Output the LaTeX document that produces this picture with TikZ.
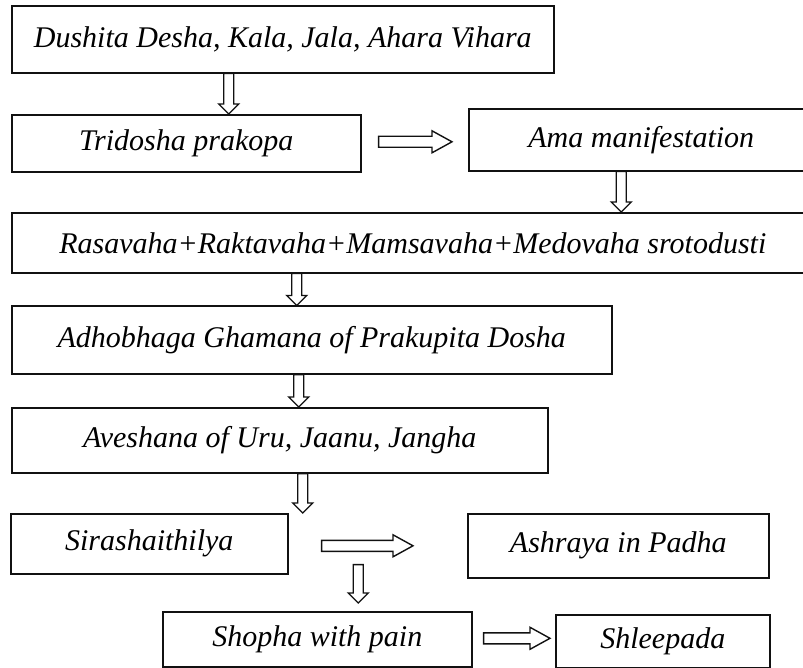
\documentclass[tikz,border=0pt]{standalone}
\usepackage{fontspec}
\setmainfont{Liberation Serif}
\usetikzlibrary{calc}
\definecolor{flowline}{HTML}{111111}
\tikzset{
  box/.style={
    draw=flowline,
    line width=1.6pt,
    anchor=north west,
    inner sep=0pt,
    align=center,
    font=\fontsize{30}{35}\selectfont\itshape
  },
  downblock/.style={
    draw=flowline,
    line width=1.3pt,
    to path={
      let \p1=(\tikztostart), \p2=(\tikztotarget) in
      (\x1-5,\y1) -- (\x1+5,\y1) -- (\x1+5,\y2+10) -- (\x1+10,\y2+10)
      -- (\x1,\y2) -- (\x1-10,\y2+10) -- (\x1-5,\y2+10) -- cycle
    }
  },
  rightblock/.style={
    draw=flowline,
    line width=1.4pt,
    to path={
      let \p1=(\tikztostart), \p2=(\tikztotarget) in
      (\x1,\y1+5.5) -- (\x2-20,\y1+5.5) -- (\x2-20,\y1+11) -- (\x2,\y1)
      -- (\x2-20,\y1-11) -- (\x2-20,\y1-5.5) -- (\x1,\y1-5.5) -- cycle
    }
  }
}

\begin{document}
\begin{tikzpicture}[x=1pt, y=-1pt]

\path[use as bounding box, clip] (0,0) rectangle (803,668);

% main chain
\node[box, minimum width=542pt, minimum height=67pt] (dushita) at (11,5)
  {Dushita Desha, Kala, Jala, Ahara Vihara};
\node[box, minimum width=349pt, minimum height=57pt] (tridosha) at (11,114)
  {Tridosha prakopa};
\node[box, minimum width=345pt, minimum height=62pt] (ama) at (468,108)
  {Ama manifestation};
\node[box, minimum width=802pt, minimum height=60pt] (rasavaha) at (11,212)
  {Rasavaha+Raktavaha+Mamsavaha+Medovaha srotodusti};
\node[box, minimum width=600pt, minimum height=67.5pt] (adhobhaga) at (11,305.5)
  {Adhobhaga Ghamana of Prakupita Dosha};
\node[box, minimum width=536pt, minimum height=65pt] (aveshana) at (11,407)
  {Aveshana of Uru, Jaanu, Jangha};

% lower part
\node[box, minimum width=277pt, minimum height=60pt] (siras) at (10,513)
  {Sirashaithilya};
\node[box, minimum width=301pt, minimum height=64pt] (ashraya) at (467,513)
  {Ashraya in Padha};
\node[box, minimum width=309pt, minimum height=55pt] (shopha) at (162,611)
  {Shopha with pain};
\node[box, minimum width=214pt, minimum height=53pt] (shleepada) at (555,614)
  {Shleepada};

% block arrows
\draw[downblock] ([xshift=-54pt]dushita.south) to (tridosha.north);
\draw[rightblock] ([xshift=17pt, yshift=1.5pt]tridosha.east) to ([xshift=-16pt]ama.west);
\draw[downblock] ([xshift=-20pt]ama.south) to (rasavaha.north);
\draw[downblock] ([xshift=-116pt]rasavaha.south) to (adhobhaga.north);
\draw[downblock] ([xshift=-13pt]adhobhaga.south) to (aveshana.north);
\draw[downblock] ([xshift=23pt]aveshana.south) to (siras.north);
\draw[rightblock] ([xshift=33pt, yshift=-2pt]siras.east) to ([xshift=-54pt]ashraya.west);
\draw[downblock] ([xshift=209pt, yshift=10pt]siras.south) to ([yshift=8pt]shopha.north);
\draw[rightblock] ([xshift=11pt, yshift=1pt]shopha.east) to ([xshift=-5pt]shleepada.west);

\end{tikzpicture}
\end{document}
